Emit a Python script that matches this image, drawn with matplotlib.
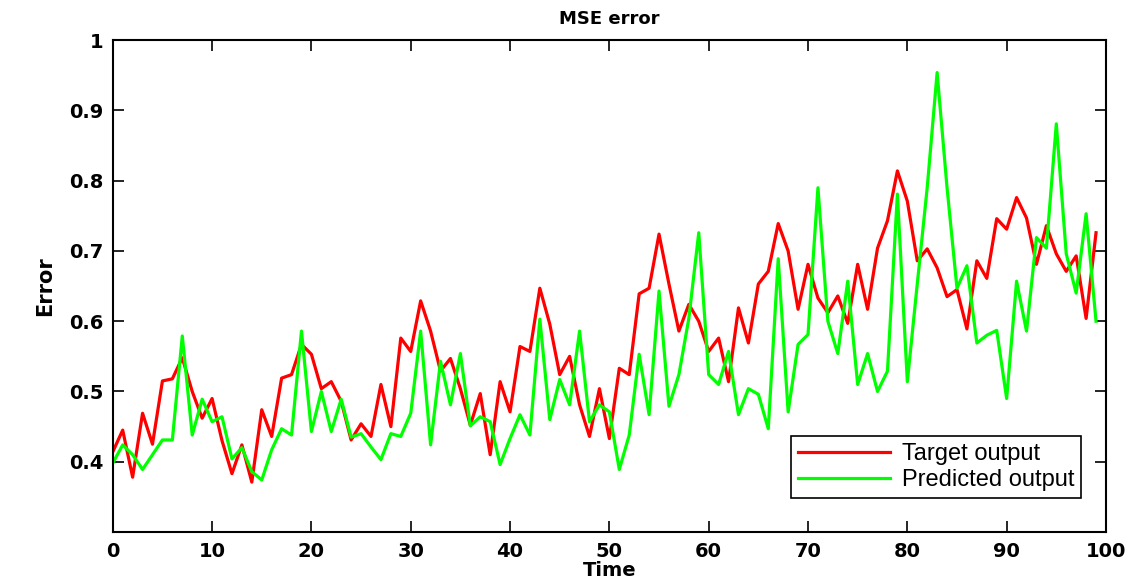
import numpy as np
import matplotlib
matplotlib.use("Agg")
import matplotlib.pyplot as plt

# 数据
time = np.arange(100)
target = [0.414, 0.445, 0.378, 0.469, 0.425, 0.515, 0.518, 0.548, 0.500, 0.462,
          0.490, 0.430, 0.383, 0.424, 0.371, 0.474, 0.436, 0.519, 0.524, 0.567,
          0.553, 0.504, 0.514, 0.486, 0.431, 0.454, 0.436, 0.510, 0.450, 0.576,
          0.557, 0.629, 0.586, 0.529, 0.547, 0.504, 0.452, 0.497, 0.410, 0.514,
          0.471, 0.564, 0.557, 0.647, 0.596, 0.524, 0.550, 0.481, 0.436, 0.504,
          0.433, 0.533, 0.524, 0.639, 0.647, 0.724, 0.653, 0.586, 0.624, 0.600,
          0.557, 0.576, 0.514, 0.619, 0.569, 0.653, 0.671, 0.739, 0.700, 0.617,
          0.681, 0.633, 0.612, 0.636, 0.597, 0.681, 0.617, 0.704, 0.743, 0.814,
          0.771, 0.686, 0.703, 0.676, 0.635, 0.645, 0.589, 0.686, 0.661, 0.746,
          0.731, 0.776, 0.747, 0.681, 0.736, 0.696, 0.671, 0.693, 0.604, 0.726]
predicted = [0.398, 0.424, 0.410, 0.389, 0.410, 0.431, 0.431, 0.579, 0.438, 0.489,
             0.457, 0.464, 0.404, 0.420, 0.386, 0.374, 0.417, 0.447, 0.438, 0.586,
             0.443, 0.500, 0.443, 0.489, 0.435, 0.440, 0.421, 0.403, 0.440, 0.436,
             0.469, 0.586, 0.424, 0.543, 0.481, 0.554, 0.451, 0.464, 0.457, 0.396,
             0.433, 0.467, 0.438, 0.603, 0.460, 0.517, 0.481, 0.586, 0.457, 0.481,
             0.471, 0.389, 0.438, 0.553, 0.467, 0.643, 0.479, 0.524, 0.604, 0.726,
             0.524, 0.510, 0.557, 0.467, 0.504, 0.496, 0.447, 0.689, 0.471, 0.567,
             0.581, 0.790, 0.600, 0.554, 0.657, 0.510, 0.554, 0.500, 0.529, 0.781,
             0.514, 0.653, 0.790, 0.954, 0.790, 0.647, 0.679, 0.569, 0.580, 0.587,
             0.490, 0.657, 0.586, 0.719, 0.704, 0.881, 0.696, 0.640, 0.753, 0.600]
xticks = [0, 10, 20, 30, 40, 50, 60, 70, 80, 90, 100]
yticks = [0.4, 0.5, 0.6, 0.7, 0.8, 0.9, 1]
ytick_labels = ["0.4", "0.5", "0.6", "0.7", "0.8", "0.9", "1"]

bold = ["DejaVu Sans"]

fig = plt.figure(figsize=(11.39, 5.83), dpi=100)
ax = fig.add_axes([0.099, 0.0875, 0.872, 0.8435])

ax.plot(time, target, color="#ff0000", lw=2.3, label="Target output")
ax.plot(time, predicted, color="#00ff00", lw=2.3, label="Predicted output")

ax.set_xlim(0, 100)
ax.set_ylim(0.3, 1)
ax.set_xticks(xticks)
ax.set_yticks(yticks)
ax.set_yticklabels(ytick_labels)
ax.tick_params(direction="in", length=8, width=1.2, top=True, right=True, pad=7)
for lab in ax.get_xticklabels() + ax.get_yticklabels():
    lab.set_family(bold)
    lab.set_fontweight("bold")
    lab.set_fontsize(14)
for s in ax.spines.values():
    s.set_linewidth(1.5)

ax.set_title("MSE error", family=bold, fontweight="bold", fontsize=13, pad=12)
ax.set_xlabel("Time", family=bold, fontweight="bold", fontsize=14, labelpad=0)
ax.set_ylabel("Error", family=bold, fontweight="bold", fontsize=15, labelpad=10)

leg = ax.legend(loc="lower right", bbox_to_anchor=(0.987, 0.045),
                handlelength=3.9, handletextpad=0.5, borderpad=0.3,
                labelspacing=0.15, fancybox=False, framealpha=1,
                edgecolor="black",
                prop={"family": ["Liberation Sans", "DejaVu Sans"], "size": 17})
leg.get_frame().set_linewidth(1.2)

fig.savefig("out.png", dpi=100)
